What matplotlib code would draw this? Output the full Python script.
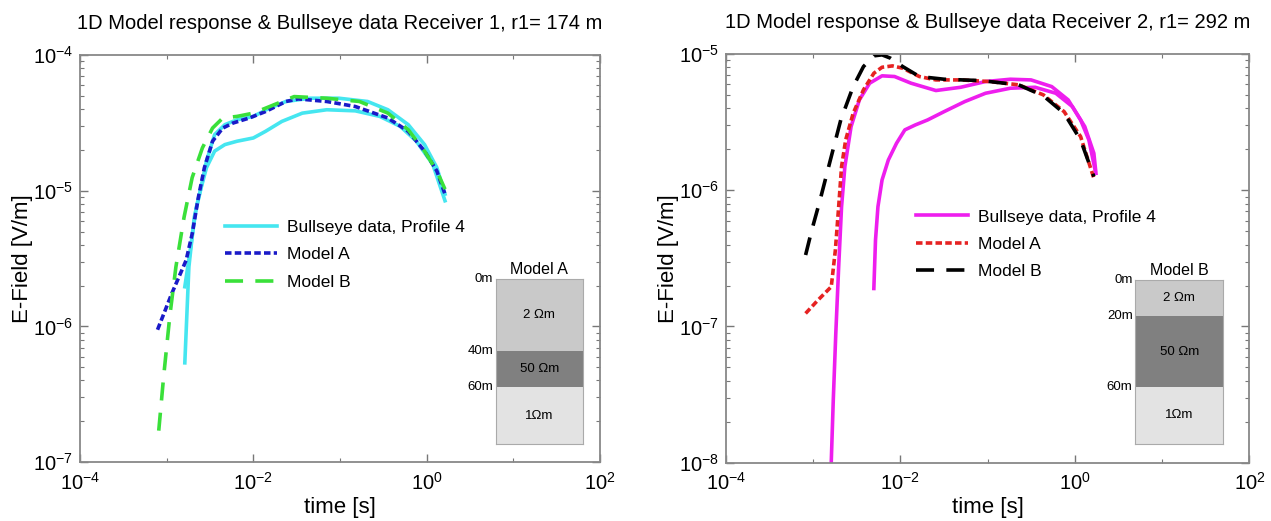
import numpy as np
from matplotlib import pyplot as plt
from matplotlib.ticker import LogLocator, NullFormatter

plt.rcParams['font.family'] = ['Liberation Sans', 'DejaVu Sans']
plt.rcParams['mathtext.fontset'] = 'custom'
plt.rcParams['mathtext.rm'] = 'Liberation Sans'
plt.rcParams['mathtext.it'] = 'Liberation Sans'

# ---- data (log10 of time [s] and E-field [V/m]) ----
# Receiver 1
r1_data1_t = [-2.791, -2.744, -2.682, -2.612, -2.541, -2.447, -2.329, -2.188, -2.0, -1.859,
              -1.671, -1.435, -1.153, -0.824, -0.541, -0.306, -0.118, 0.071, 0.212]
r1_data1_e = [-6.268, -5.561, -5.195, -5.0, -4.829, -4.707, -4.659, -4.634, -4.610, -4.561,
              -4.488, -4.427, -4.402, -4.410, -4.451, -4.524, -4.634, -4.805, -5.073]
r1_data2_t = [-2.791, -2.729, -2.659, -2.612, -2.541, -2.447, -2.329, -2.188, -2.0, -1.812,
              -1.624, -1.341, -1.012, -0.682, -0.447, -0.212, -0.024, 0.118, 0.212]
r1_data2_e = [-5.707, -5.439, -5.122, -5.0, -4.780, -4.585, -4.512, -4.476, -4.451, -4.390,
              -4.341, -4.317, -4.317, -4.341, -4.402, -4.512, -4.659, -4.829, -5.024]
r1_modA_t = [-3.106, -2.941, -2.776, -2.706, -2.635, -2.565, -2.471, -2.353, -2.235, -2.047,
             -1.859, -1.624, -1.482, -1.153, -0.824, -0.447, -0.212, -0.024, 0.118, 0.212]
r1_modA_e = [-6.024, -5.756, -5.512, -5.317, -5.049, -4.829, -4.634, -4.537, -4.5, -4.463,
             -4.415, -4.341, -4.322, -4.341, -4.378, -4.463, -4.561, -4.707, -4.854, -5.024]
r1_modB_t = [-3.092, -3.035, -2.965, -2.894, -2.8, -2.706, -2.588, -2.471, -2.353, -2.188,
             -2.0, -1.765, -1.529, -1.153, -0.776, -0.447, -0.212, -0.024, 0.118, 0.212]
r1_modB_e = [-6.768, -6.366, -5.927, -5.561, -5.195, -4.902, -4.683, -4.537, -4.463, -4.451,
             -4.427, -4.366, -4.305, -4.317, -4.341, -4.427, -4.549, -4.707, -4.854, -4.988]

# Receiver 2
r2_data1_t = [-2.791, -2.768, -2.739, -2.706, -2.673, -2.635, -2.564, -2.469, -2.351, -2.209,
              -2.066, -1.877, -1.592, -1.308, -1.024, -0.739, -0.502, -0.265, -0.076, 0.066,
              0.161, 0.232]
r2_data1_e = [-7.995, -7.542, -7.051, -6.561, -6.120, -5.826, -5.532, -5.336, -5.213, -5.159,
              -5.164, -5.213, -5.267, -5.243, -5.201, -5.184, -5.189, -5.238, -5.336, -5.483,
              -5.630, -5.850]
r2_data2_t = [-2.303, -2.284, -2.256, -2.209, -2.137, -2.043, -1.948, -1.829, -1.687, -1.498,
              -1.261, -1.024, -0.739, -0.455, -0.218, -0.028, 0.114, 0.218, 0.242]
r2_data2_e = [-6.721, -6.365, -6.120, -5.924, -5.777, -5.654, -5.556, -5.520, -5.483, -5.422,
              -5.348, -5.287, -5.25, -5.243, -5.287, -5.385, -5.532, -5.728, -5.875]
r2_modA_t = [-3.085, -2.943, -2.791, -2.744, -2.706, -2.673, -2.626, -2.540, -2.422, -2.303,
             -2.209, -2.090, -1.972, -1.782, -1.592, -1.308, -0.976, -0.645, -0.360, -0.123,
             0.066, 0.218]
r2_modA_e = [-6.904, -6.806, -6.708, -6.439, -6.120, -5.826, -5.630, -5.434, -5.262, -5.140,
             -5.096, -5.086, -5.103, -5.164, -5.189, -5.189, -5.201, -5.225, -5.299, -5.422,
             -5.605, -5.912]
r2_modB_t = [-3.085, -3.014, -2.919, -2.801, -2.682, -2.540, -2.422, -2.303, -2.209, -2.114,
             -1.972, -1.782, -1.498, -1.071, -0.645, -0.360, -0.123, 0.066, 0.218]
r2_modB_e = [-6.475, -6.292, -6.071, -5.777, -5.483, -5.238, -5.091, -5.012, -5.005, -5.029,
             -5.091, -5.164, -5.184, -5.194, -5.225, -5.306, -5.434, -5.630, -5.899]

# layered earth models
modelA_depths = [0, 40, 60]
modelA_labels = ['2 \u03a9m', '50 \u03a9m', '1\u03a9m']
modelB_depths = [0, 20, 60]
modelB_labels = ['2 \u03a9m', '50 \u03a9m', '1\u03a9m']
layer_colors = ['#c9c9c9', '#808080', '#e3e3e3']
model_bottom = 92

LW = 2.6
dotA = (1.8, 0.9)
dashB = (5.0, 3.4)


def L(v):
    return np.power(10.0, np.asarray(v))


def styleAxes(ax, ylim, title):
    ax.set_xscale('log')
    ax.set_yscale('log')
    ax.set_xlim(1e-4, 1e2)
    ax.set_ylim(*ylim)
    ax.set_xticks([1e-4, 1e-2, 1e0, 1e2])
    ax.xaxis.set_minor_locator(LogLocator(base=10, subs=(1.0,), numticks=20))
    ax.xaxis.set_minor_formatter(NullFormatter())
    ax.yaxis.set_minor_locator(LogLocator(base=10, subs=np.arange(2, 10), numticks=20))
    ax.yaxis.set_minor_formatter(NullFormatter())
    ax.tick_params(which='both', direction='in', top=True, right=True, colors='#777777',
                   labelcolor='black', labelsize=14.5)
    ax.tick_params(which='major', length=6, width=1)
    ax.tick_params(which='minor', length=3, width=0.8)
    ax.tick_params(axis='x', which='major', pad=7)
    ax.tick_params(axis='y', which='major', pad=5)
    for s in ax.spines.values():
        s.set_color('#888888')
        s.set_linewidth(1.3)
    ax.set_xlabel('time [s]', fontsize=16, labelpad=2)
    ax.set_ylabel('E-Field [V/m]', fontsize=16, labelpad=0)
    ax.set_title(title, fontsize=14.5, pad=19)


def drawModel(ax, bounds, name, depths, labels):
    ins = ax.inset_axes(bounds)
    edges = list(depths) + [model_bottom]
    for i, lab in enumerate(labels):
        ins.axhspan(edges[i], edges[i + 1], color=layer_colors[i], lw=0)
        ins.text(0.5, (edges[i] + edges[i + 1]) / 2, lab, ha='center', va='center', fontsize=9.5)
    for d in depths:
        ins.text(-0.03, d, '%dm' % d, ha='right', va='center', fontsize=9.5,
                 transform=ins.get_yaxis_transform())
    ins.set_xlim(0, 1)
    ins.set_ylim(model_bottom, 0)
    ins.set_xticks([])
    ins.set_yticks([])
    for s in ins.spines.values():
        s.set_color('#aaaaaa')
        s.set_linewidth(0.8)
    ins.set_title(name, fontsize=11.5, pad=4)


fig = plt.figure(figsize=(12.71, 5.21), dpi=100)
ax1 = fig.add_axes([0.063, 0.113, 0.409, 0.781])
ax2 = fig.add_axes([0.571, 0.112, 0.412, 0.784])

# Receiver 1
ax1.plot(L(r1_data1_t), L(r1_data1_e), color='#45e6f0', lw=LW, label='Bullseye data, Profile 4')
ax1.plot(L(r1_data2_t), L(r1_data2_e), color='#45e6f0', lw=LW)
ax1.plot(L(r1_modA_t), L(r1_modA_e), color='#1a1ac8', lw=LW, dashes=dotA, label='Model A')
ax1.plot(L(r1_modB_t), L(r1_modB_e), color='#3ae03a', lw=LW, dashes=dashB, label='Model B')
styleAxes(ax1, (1e-7, 1e-4), '1D Model response & Bullseye data Receiver 1, r1= 174 m')
ax1.legend(loc='upper left', bbox_to_anchor=(0.279, 0.595), frameon=False, fontsize=12.5,
           handlelength=3.0, handletextpad=0.55, labelspacing=0.7, borderpad=0, borderaxespad=0)
drawModel(ax1, [0.80, 0.044, 0.167, 0.405], 'Model A', modelA_depths, modelA_labels)

# Receiver 2
ax2.plot(L(r2_data1_t), L(r2_data1_e), color='#ee1eee', lw=LW, label='Bullseye data, Profile 4')
ax2.plot(L(r2_data2_t), L(r2_data2_e), color='#ee1eee', lw=LW)
ax2.plot(L(r2_modA_t), L(r2_modA_e), color='#e62222', lw=LW, dashes=dotA, label='Model A')
ax2.plot(L(r2_modB_t), L(r2_modB_e), color='black', lw=LW, dashes=dashB, label='Model B')
styleAxes(ax2, (1e-8, 1e-5), '1D Model response & Bullseye data Receiver 2, r1= 292 m')
ax2.legend(loc='upper left', bbox_to_anchor=(0.364, 0.62), frameon=False, fontsize=12.5,
           handlelength=3.0, handletextpad=0.55, labelspacing=0.7, borderpad=0, borderaxespad=0)
drawModel(ax2, [0.782, 0.046, 0.168, 0.40], 'Model B', modelB_depths, modelB_labels)

fig.savefig('out.png', dpi=100)
